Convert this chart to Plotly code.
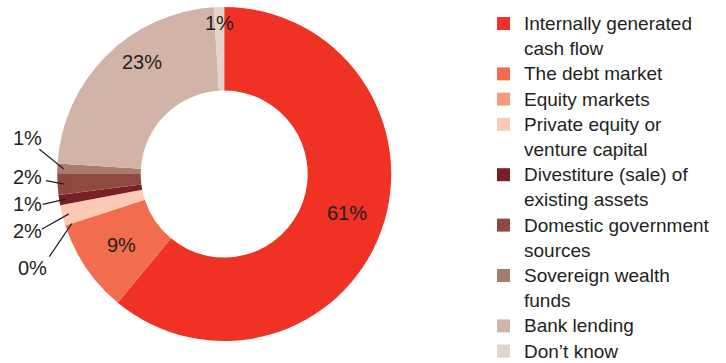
import math
import plotly.graph_objects as go

# Funding sources, listed clockwise from 12 o'clock
sources = [
    "Internally generated cash flow",
    "The debt market",
    "Equity markets",
    "Private equity or venture capital",
    "Divestiture (sale) of existing assets",
    "Domestic government sources",
    "Sovereign wealth funds",
    "Bank lending",
    "Don’t know",
]
legend_lines = [
    ["Internally generated", "cash flow"],
    ["The debt market"],
    ["Equity markets"],
    ["Private equity or", "venture capital"],
    ["Divestiture (sale) of", "existing assets"],
    ["Domestic government", "sources"],
    ["Sovereign wealth", "funds"],
    ["Bank lending"],
    ["Don’t know"],
]
shares = [61, 9, 0, 2, 1, 2, 1, 23, 1]
colors = [
    "#EF3224", "#F26D4E", "#F69A7D", "#FCC9B5", "#7A1F26",
    "#8E4A40", "#A97A6E", "#D1B3A8", "#E4D3CB",
]

W, H = 726, 363
CX, CY, R = 224.2, 174.0, 167.0
TEXT = "#231F20"
FONT = "Liberation Sans, Arial, Helvetica, sans-serif"


def px(x):
    return x / W


def py(y):
    return 1 - y / H


fig = go.Figure(
    go.Pie(
        labels=sources,
        values=shares,
        sort=False,
        direction="clockwise",
        rotation=0,
        hole=0.5,
        marker=dict(colors=colors, line=dict(width=0)),
        textinfo="none",
        hoverinfo="skip",
        showlegend=False,
        domain=dict(x=[px(CX - R), px(CX + R)], y=[py(CY + R), py(CY - R)]),
    )
)

total = float(sum(shares))
mid_angle = []
acc = 0.0
for v in shares:
    mid_angle.append((acc + v / 2) / total * 360.0)
    acc += v


def on_ring(idx, r):
    a = math.radians(mid_angle[idx])
    return CX + r * math.sin(a), CY - r * math.cos(a)


annotations = []
shapes = []

# Labels sitting on the ring
inside_pos = {0: (347, 213), 1: (121.5, 244.5), 7: (142, 62), 8: (219.5, 23.3)}
for i, (x, y) in inside_pos.items():
    annotations.append(dict(
        x=px(x), y=py(y), xref="paper", yref="paper", showarrow=False,
        text=f"{shares[i]}%", font=dict(size=20, color=TEXT, family=FONT),
        xanchor="center", yanchor="middle",
    ))

# Small slices: label on the left with a leader line into the slice
outside_pos = {
    6: ((27, 138), (39.3, 149.3)),
    5: ((27, 176.5), (46, 180.7)),
    4: ((27, 204), (42.7, 204.3)),
    3: ((27, 231), (41.7, 229.3)),
    2: ((32, 267.5), (49.3, 256.7)),
}
for i, ((lx, ly), (sx, sy)) in outside_pos.items():
    annotations.append(dict(
        x=px(lx), y=py(ly), xref="paper", yref="paper", showarrow=False,
        text=f"{shares[i]}%", font=dict(size=20, color=TEXT, family=FONT),
        xanchor="center", yanchor="middle",
    ))
    ex, ey = on_ring(i, 0.96 * R)
    shapes.append(dict(
        type="line", xref="paper", yref="paper",
        x0=px(sx), y0=py(sy), x1=px(ex), y1=py(ey),
        line=dict(color=TEXT, width=1.2),
    ))

# Legend: colour squares with wrapped labels
LINE_H = 25.2
y_line = 23.5
for i, lines in enumerate(legend_lines):
    shapes.append(dict(
        type="rect", xref="paper", yref="paper",
        x0=px(497), x1=px(510), y0=py(y_line + 6.5), y1=py(y_line - 6.5),
        fillcolor=colors[i], line=dict(width=0),
    ))
    for t in lines:
        annotations.append(dict(
            x=px(522), y=py(y_line), xref="paper", yref="paper", showarrow=False,
            text=t, font=dict(size=19, color=TEXT, family=FONT),
            xanchor="left", yanchor="middle",
        ))
        y_line += LINE_H

fig.update_layout(
    width=W, height=H,
    margin=dict(l=0, r=0, t=0, b=0),
    paper_bgcolor="white", plot_bgcolor="white",
    annotations=annotations, shapes=shapes,
)

fig.write_html("out.html")
